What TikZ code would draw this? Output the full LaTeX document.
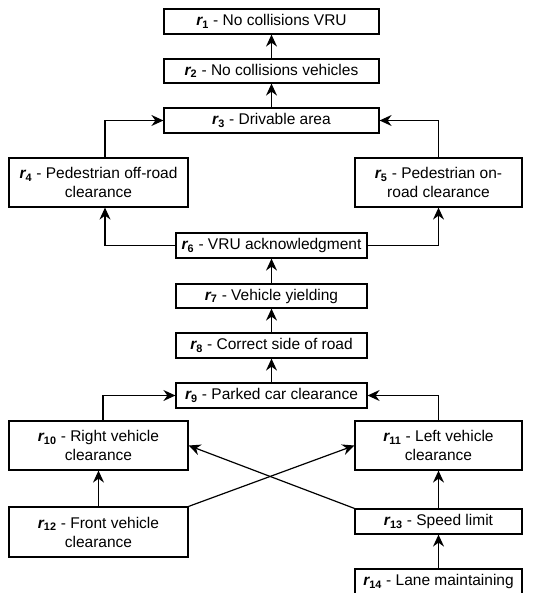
\documentclass[tikz,border=0pt]{standalone}
\usepackage{fontspec}
\setmainfont{Liberation Sans}
\usetikzlibrary{arrows.meta}
\newcommand{\rr}[1]{{\bfseries\itshape r}\textsubscript{\bfseries #1}}
\begin{document}
\begin{tikzpicture}[x=1pt,y=-1pt,
  box/.style={draw,line width=1.2pt,rectangle,inner sep=0pt,align=center,font=\fontsize{15.5}{19}\selectfont},
  arr/.style={draw,line width=1.2pt,-{Stealth[length=12pt,width=11pt,inset=4pt]}}]
\clip (0,0) rectangle (544,593);
\useasboundingbox (0,0) rectangle (544,593);
\fill[white] (0,0) rectangle (544,593);
\node[box,minimum width=215pt,minimum height=25pt] (r1) at (271.5,21.5) {\rr{1} - No collisions VRU};
\node[box,minimum width=215pt,minimum height=24pt] (r2) at (271.5,71) {\rr{2} - No collisions vehicles};
\node[box,minimum width=215pt,minimum height=25pt] (r3) at (271.5,120.5) {\rr{3} - Drivable area};
\node[box,minimum width=179pt,minimum height=49pt] (r4) at (98.5,182.5) {\rr{4} - Pedestrian off-road\\clearance};
\node[box,minimum width=167pt,minimum height=49pt] (r5) at (438.5,182.5) {\rr{5} - Pedestrian on-\\road clearance};
\node[box,minimum width=191pt,minimum height=25pt] (r6) at (271.5,245.5) {\rr{6} - VRU acknowledgment};
\node[box,minimum width=191pt,minimum height=24pt] (r7) at (271.5,296) {\rr{7} - Vehicle yielding};
\node[box,minimum width=191pt,minimum height=25pt] (r8) at (271.5,345.5) {\rr{8} - Correct side of road};
\node[box,minimum width=191pt,minimum height=25pt] (r9) at (271.5,395.5) {\rr{9} - Parked car clearance};
\node[box,minimum width=179pt,minimum height=49pt] (r10) at (98.5,445.5) {\rr{10} - Right vehicle\\clearance};
\node[box,minimum width=167pt,minimum height=49pt] (r11) at (438.5,445.5) {\rr{11} - Left vehicle\\clearance};
\node[box,minimum width=179pt,minimum height=50pt] (r12) at (98.5,532) {\rr{12} - Front vehicle\\clearance};
\node[box,minimum width=167pt,minimum height=25pt] (r13) at (438.5,521.5) {\rr{13} - Speed limit};
\node[box,minimum width=167pt,minimum height=25pt] (r14) at (438.5,581.5) {\rr{14} - Lane maintaining};
\draw[arr] (r2) -- (r1);
\draw[arr] (r3) -- (r2);
\draw[arr] ([xshift=6.5pt]r4.north) |- (r3.west);
\draw[arr] (r5.north) |- (r3.east);
\draw[arr] (r6.west) -| ([xshift=6.5pt]r4.south);
\draw[arr] (r6.east) -| (r5.south);
\draw[arr] (r7) -- (r6);
\draw[arr] (r8) -- (r7);
\draw[arr] (r9) -- (r8);
\draw[arr] ([xshift=4.5pt]r10.north) |- (r9.west);
\draw[arr] (r11.north) |- (r9.east);
\draw[arr] (r12.north) -- (r10.south);
\draw[arr] (r12.north east) -- (r11.west);
\draw[arr] (r13.north west) -- (r10.east);
\draw[arr] (r13.north) -- (r11.south);
\draw[arr] (r14) -- (r13);
\end{tikzpicture}
\end{document}
